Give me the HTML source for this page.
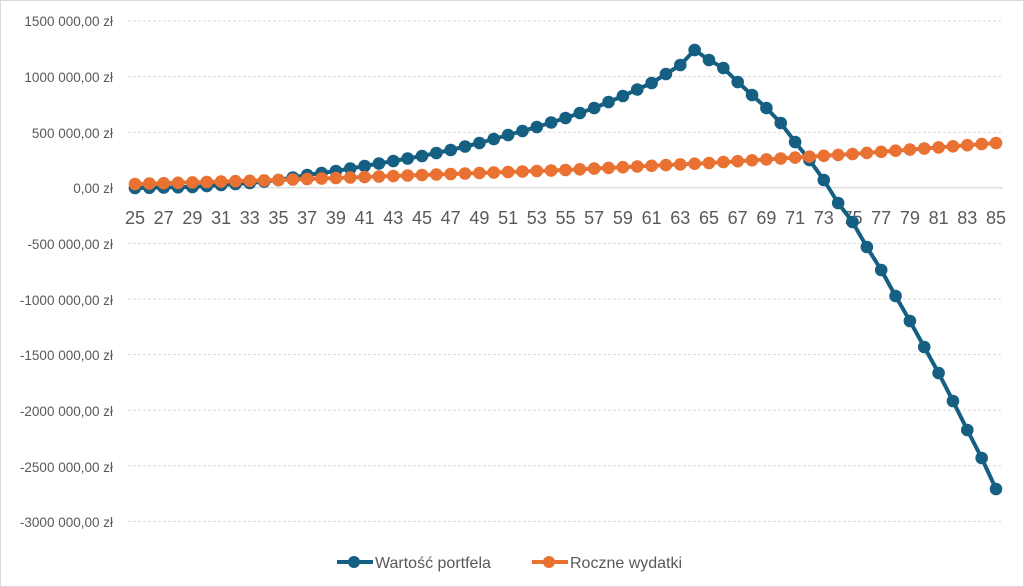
<!DOCTYPE html>
<html><head><meta charset="utf-8"><style>
html,body{margin:0;padding:0;background:#fff}
svg{display:block}
text{font-family:"Liberation Sans",sans-serif;fill:#595959}
</style></head><body>
<svg id="c" width="1024" height="587" viewBox="0 0 1024 587" xmlns="http://www.w3.org/2000/svg">
<rect x="0.5" y="0.5" width="1023" height="586" fill="#fff" stroke="#d9d9d9"/>
<g id="grid"></g>
<g id="ylab" font-size="13.5" text-anchor="end">
<text x="113" y="26">1500 000,00 zł</text>
<text x="113" y="82">1000 000,00 zł</text>
<text x="113" y="138">500 000,00 zł</text>
<text x="113" y="193">0,00 zł</text>
<text x="113" y="249">-500 000,00 zł</text>
<text x="113" y="305">-1000 000,00 zł</text>
<text x="113" y="360">-1500 000,00 zł</text>
<text x="113" y="416">-2000 000,00 zł</text>
<text x="113" y="472">-2500 000,00 zł</text>
<text x="113" y="527">-3000 000,00 zł</text>
</g>
<g id="xlab" font-size="18" text-anchor="middle"></g>
<g id="series"></g>
<g font-size="16">
<line x1="337" y1="562" x2="373" y2="562" stroke="#156082" stroke-width="4"/>
<circle cx="354" cy="562" r="6" fill="#156082"/>
<text x="375" y="568">Wartość portfela</text>
<line x1="532" y1="562" x2="568" y2="562" stroke="#e97132" stroke-width="4"/>
<circle cx="549" cy="562" r="6" fill="#e97132"/>
<text x="570" y="568">Roczne wydatki</text>
</g>
</svg>
<script>
var NS="http://www.w3.org/2000/svg";
function el(t,a,p){var e=document.createElementNS(NS,t);for(var k in a)e.setAttribute(k,a[k]);p.appendChild(e);return e;}
var grid=document.getElementById('grid');
for(var i=0;i<10;i++){var y=21+i*55.6;el('line',{x1:128,x2:1003,y1:y,y2:y,stroke:i==3?'#d0d0d0':'#d9d9d9','stroke-width':1,'stroke-dasharray':i==3?'':'3,2'},grid);}
function X(a){return 135+(a-25)*(861/60);}
var xl=document.getElementById('xlab');
for(var a=25;a<=85;a+=2){var t=el('text',{x:X(a),y:224},xl);t.textContent=a;}
var kb={25:188,29:187,33:183,35:180,37:175,39:171,41:166,43:161,45:156,47:150,49:143,51:135,53:127,55:118,57:108,59:96,61:83,63:65,64:50,65:60,66:68,67:82,68:95,69:108,70:123,71:142,72:160,73:180,74:203,75:222,76:247,77:270,78:296,79:321,80:347,81:373,82:401,83:430,84:458,85:489};
var ko={25:184,35:180,45:175,55:170,65:163,75:154,85:143};
function interp(k,a){var ks=Object.keys(k).map(Number).sort(function(p,q){return p-q});for(var i=0;i<ks.length-1;i++){if(a>=ks[i]&&a<=ks[i+1]){var f=(a-ks[i])/(ks[i+1]-ks[i]);return k[ks[i]]+f*(k[ks[i+1]]-k[ks[i]]);}}return k[ks[ks.length-1]];}
var s=document.getElementById('series');
function draw(k,c){var pts=[];for(var a=25;a<=85;a++)pts.push([X(a),interp(k,a)]);
el('polyline',{points:pts.map(function(p){return p.join(',')}).join(' '),fill:'none',stroke:c,'stroke-width':4,'stroke-linejoin':'round'},s);
pts.forEach(function(p){el('circle',{cx:p[0],cy:p[1],r:6.3,fill:c},s);});}
draw(kb,'#156082');draw(ko,'#e97132');
</script>
</body></html>
